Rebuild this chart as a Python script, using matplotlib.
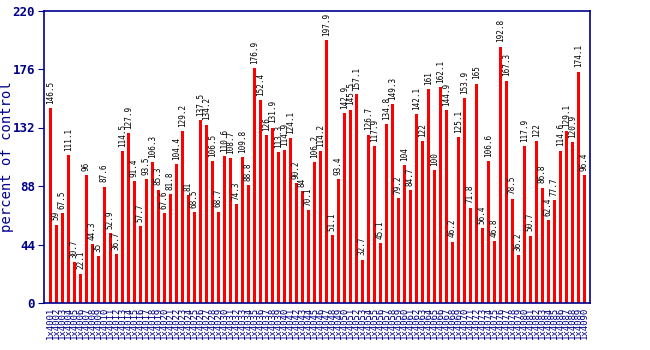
import matplotlib
matplotlib.use("Agg")
import matplotlib.pyplot as plt

values = [146.5, 59, 67.5, 111.1, 30.7, 22.1, 96, 44.3, 35, 87.6,
          52.9, 36.7, 114.5, 127.9, 91.4, 57.7, 93.5, 106.3, 85.3, 67.6,
          81.8, 104.4, 129.2, 81, 68.5, 137.5, 134.2, 106.5, 68.7, 110.6,
          108.7, 74.3, 109.8, 88.8, 176.9, 152.4, 126, 131.9, 113.3, 114.9,
          124.1, 90.2, 84, 70.1, 106.2, 114.2, 197.9, 51.1, 93.4, 142.9,
          145.5, 157.1, 32.7, 126.7, 117.9, 45.1, 134.8, 149.3, 79.2, 104,
          84.7, 142.1, 122, 161, 100, 162.1, 144.9, 46.2, 125.1, 153.9,
          71.8, 165, 56.4, 106.6, 46.8, 192.8, 167.3, 78.5, 36.2, 117.9,
          50.7, 122, 86.8, 62.4, 77.7, 114.6, 129.1, 120.9, 174.1, 96.4]
categories = ["1x40%02d" % (i + 1) for i in range(len(values))]
y_ticks = [0, 44, 88, 132, 176, 220]

navy = "#00008B"
mono = "DejaVu Sans Mono"

fig = plt.figure(figsize=(6.5, 3.5), dpi=100)
ax = fig.add_axes([44 / 650, 47 / 350, 546 / 650, 292.5 / 350])

x = list(range(len(values)))
ax.bar(x, values, width=0.5, color="#FF0000", zorder=2)

for xi, v in zip(x, values):
    ax.annotate(f"{v:g}", (xi, v), xytext=(0, 3), textcoords="offset points",
                rotation=90, ha="center", va="bottom", fontsize=5.5,
                family=mono, color="black")

ax.set_xlim(-1.08, len(values) - 0.08)
ax.set_ylim(0, 220)
ax.set_yticks(y_ticks)
ax.set_yticklabels([str(t) for t in y_ticks], family=mono, fontsize=9,
                   fontweight="bold", color=navy)
ax.set_xticks(x)
ax.set_xticklabels(categories, rotation=90, family=mono, fontsize=6.5,
                   color=navy)
ax.tick_params(axis="x", length=0, pad=3)
ax.tick_params(axis="y", length=4, color=navy, direction="out", pad=2.5)
for s in ax.spines.values():
    s.set_color(navy)
    s.set_linewidth(1.2)
ax.set_ylabel("percent of control", family=mono, fontsize=10, color=navy)
ax.yaxis.set_label_coords(-0.055, 0.5)

fig.savefig("out.png", dpi=100)
